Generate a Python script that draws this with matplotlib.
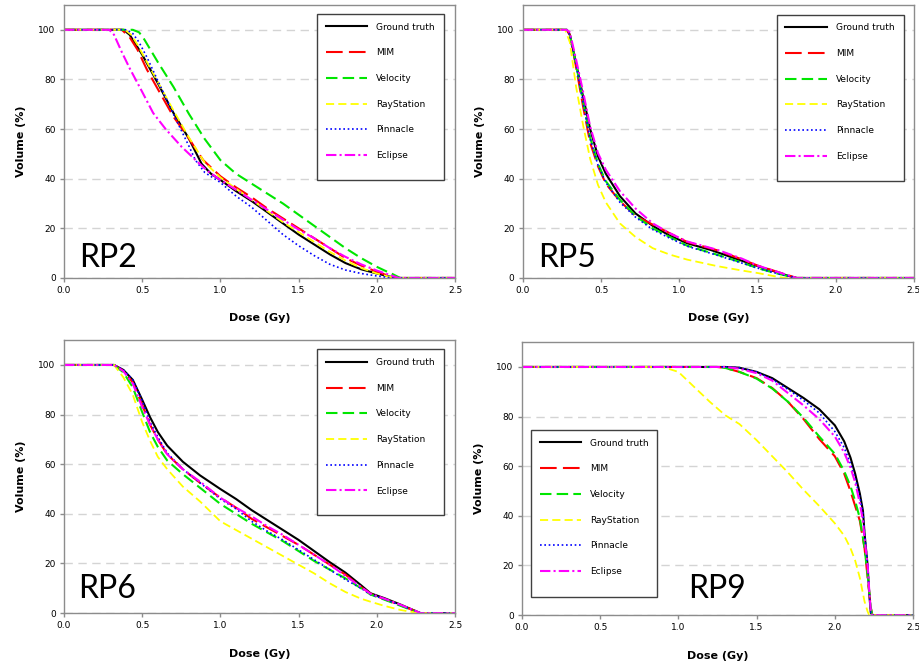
import matplotlib
matplotlib.use("Agg")
import matplotlib.pyplot as plt
from matplotlib.patches import Rectangle

# ---- dose-volume histogram data (dose in Gy, volume in %) ----
SERIES = ["Ground truth", "MIM", "Velocity", "RayStation", "Pinnacle", "Eclipse"]

# RP2
rp2_gt_d = [0, 0.38, 0.42, 0.46, 0.5, 0.6, 0.7, 0.8, 0.88, 0.94, 1.0, 1.1, 1.2, 1.3, 1.4, 1.5, 1.6, 1.7, 1.8, 1.9, 2.0, 2.08, 2.13, 2.5]
rp2_gt_v = [100, 100, 98, 94, 90, 78.5, 66.5, 56, 46, 42, 39.5, 35, 31, 26.5, 22, 17.5, 13.5, 9.5, 6, 3.5, 1.8, 0.6, 0, 0]
rp2_mim_d = [0, 0.37, 0.42, 0.47, 0.53, 0.61, 0.7, 0.79, 0.89, 1.0, 1.1, 1.2, 1.3, 1.4, 1.5, 1.6, 1.7, 1.8, 1.9, 2.0, 2.08, 2.13, 2.5]
rp2_mim_v = [100, 100, 97, 92, 84, 75, 65, 57, 47.5, 41, 36.5, 32.5, 28, 24, 20, 16, 12, 8, 5, 2.5, 0.8, 0, 0]
rp2_vel_d = [0, 0.44, 0.48, 0.51, 0.6, 0.7, 0.8, 0.9, 1.0, 1.1, 1.2, 1.3, 1.4, 1.5, 1.6, 1.7, 1.8, 1.9, 2.0, 2.05, 2.1, 2.15, 2.5]
rp2_vel_v = [100, 100, 99, 96.5, 87, 77, 66, 56, 47.5, 42, 38, 34, 30, 25.5, 21, 16.5, 12, 8, 4.5, 3, 1.6, 0, 0]
rp2_ray_d = [0, 0.39, 0.43, 0.47, 0.5, 0.6, 0.7, 0.8, 0.9, 1.0, 1.1, 1.2, 1.3, 1.4, 1.5, 1.6, 1.7, 1.8, 1.9, 2.0, 2.08, 2.13, 2.5]
rp2_ray_v = [100, 100, 98, 94, 90.5, 79, 67.5, 56.5, 46.5, 40.5, 36, 31.5, 27, 22.5, 18.5, 14.5, 10.5, 7, 4, 1.8, 0.5, 0, 0]
rp2_pin_d = [0, 0.4, 0.44, 0.48, 0.53, 0.6, 0.7, 0.8, 0.84, 0.9, 1.0, 1.1, 1.2, 1.3, 1.4, 1.5, 1.6, 1.7, 1.8, 1.9, 2.0, 2.06, 2.11, 2.5]
rp2_pin_v = [100, 100, 98.5, 95, 89, 79.5, 66, 53, 47.5, 42.5, 38.5, 33, 28.5, 23, 17.5, 13, 9, 5.5, 3.2, 1.8, 0.8, 0.3, 0, 0]
rp2_ecl_d = [0, 0.29, 0.32, 0.37, 0.42, 0.5, 0.57, 0.65, 0.75, 0.85, 0.92, 1.0, 1.1, 1.2, 1.3, 1.4, 1.5, 1.6, 1.7, 1.8, 1.9, 2.0, 2.08, 2.14, 2.5]
rp2_ecl_v = [100, 100, 98, 91, 84.5, 75, 66.5, 60, 53, 47, 43, 39.5, 35.5, 31.5, 27.5, 23.5, 19.5, 16, 12, 8.5, 5.5, 3, 1.3, 0, 0]

# RP5
rp5_gt_d = [0, 0.28, 0.3, 0.34, 0.385, 0.43, 0.48, 0.53, 0.62, 0.72, 0.83, 0.94, 1.05, 1.2, 1.35, 1.5, 1.6, 1.7, 1.75, 2.5]
rp5_gt_v = [100, 100, 98, 86.5, 73, 60, 49, 42, 33, 26, 21, 17, 14, 11.3, 8, 4.8, 2.8, 0.8, 0, 0]
rp5_d = [0, 0.28, 0.3, 0.34, 0.385, 0.43, 0.48, 0.53, 0.62, 0.72, 0.83, 0.94, 1.05, 1.24, 1.4, 1.5, 1.6, 1.7, 1.75, 2.5]
rp5_mim_v = [100, 100, 98, 85, 69, 54.5, 45, 38, 31, 25, 21.5, 18, 14.5, 11.2, 7.5, 5, 3, 1, 0, 0]
rp5_vel_v = [100, 100, 98, 86, 71, 56.5, 46, 39, 31.5, 25, 20, 16.5, 13, 9.4, 6.2, 4, 2.2, 0.7, 0, 0]
rp5_pin_v = [100, 100, 98, 86, 70.5, 56, 45.5, 38.5, 30.5, 24.5, 19.5, 16, 12.8, 9.2, 6, 4, 2.2, 0.7, 0, 0]
rp5_ecl_v = [100, 100, 99, 88, 75, 61, 50.3, 43.6, 35, 28, 22, 18, 14.7, 11.4, 7.8, 5, 3, 1, 0, 0]
rp5_ray_d = [0, 0.27, 0.3, 0.34, 0.385, 0.43, 0.48, 0.53, 0.62, 0.72, 0.83, 0.94, 1.05, 1.24, 1.4, 1.5, 1.6, 1.67, 2.5]
rp5_ray_v = [100, 100, 95, 77, 61.5, 48, 37.5, 30.5, 22, 16.5, 12, 9.4, 7.4, 4.8, 3, 2, 0.8, 0, 0]

# RP6
rp6_d = [0, 0.32, 0.38, 0.44, 0.5, 0.55, 0.6, 0.66, 0.76, 0.87, 1.0, 1.1, 1.2, 1.3, 1.4, 1.5, 1.6, 1.7, 1.8, 1.9, 1.96, 2.05, 2.15, 2.22, 2.28, 2.5]
rp6_gt_v = [100, 100, 98, 94, 86, 79, 73, 67.5, 61, 55.5, 50, 46, 41.5, 37.5, 33.5, 29.5, 25, 20.5, 16.3, 11.2, 8, 6, 3.5, 1.6, 0, 0]
rp6_mim_v = [100, 100, 97.5, 93, 84, 76, 70, 64, 58, 52.5, 46.5, 42.5, 38, 34.5, 31, 27.5, 23.5, 19.5, 15.5, 10.5, 7.8, 5.6, 3.2, 1.5, 0, 0]
rp6_vel_v = [100, 100, 97, 91, 81, 73, 67, 61.5, 56, 50.5, 44, 40, 36, 32.5, 29, 25, 21, 17.5, 14, 10, 7.5, 5.4, 3, 1.3, 0, 0]
rp6_ray_v = [100, 100, 95, 88, 77, 69.5, 63, 58, 51, 45, 37, 33.5, 30, 26.5, 23, 19.5, 16, 12, 8.5, 5.8, 4.6, 2.9, 1.3, 0.5, 0, 0]
rp6_pin_v = [100, 100, 98, 94, 85.5, 77, 71, 64.5, 58, 52.5, 46, 42, 37, 33, 29.5, 25.5, 21.5, 17.5, 13.5, 10, 7.5, 5.6, 3.2, 1.5, 0, 0]
rp6_ecl_v = [100, 100, 97.5, 92.5, 83, 76, 70, 64, 58, 53, 46.5, 42.5, 39, 35, 31.5, 27.5, 23.5, 19.5, 15, 10.5, 7.8, 5.8, 3.4, 1.6, 0, 0]

# RP9
rp9_d = [0, 1.3, 1.39, 1.5, 1.6, 1.7, 1.8, 1.9, 2.0, 2.06, 2.1, 2.13, 2.16, 2.18, 2.19, 2.21, 2.22, 2.23, 2.24, 2.5]
rp9_gt_v = [100, 100, 99.7, 98, 95.5, 91.5, 87.5, 83, 76.5, 70, 63.5, 57, 49, 42, 33, 19.7, 8.7, 1, 0, 0]
rp9_pin_v = [100, 100, 99.7, 98, 95, 91, 86.5, 81.5, 74, 67.5, 61, 55, 47.5, 41, 33, 20, 9, 1, 0, 0]
rp9_ecl_v = [100, 100, 99.3, 97.5, 94.5, 89.5, 84.5, 79, 72, 65.5, 59.5, 53.5, 45, 38, 31, 20, 10, 2, 0, 0]
rp9_vm_d = [0, 1.25, 1.3, 1.39, 1.5, 1.6, 1.7, 1.8, 1.9, 2.0, 2.06, 2.1, 2.13, 2.16, 2.19, 2.21, 2.23, 2.24, 2.5]
rp9_vel_v = [100, 100, 99.6, 98, 95.3, 91.3, 86, 79.5, 72, 65, 58, 52, 46, 39, 27, 16, 3, 0, 0]
rp9_mim_v = [100, 100, 99.6, 98, 95.5, 91.5, 86, 79, 71, 64, 57, 50, 44, 38, 27, 15, 3, 0, 0]
rp9_ray_d = [0, 0.9, 1.0, 1.1, 1.2, 1.3, 1.39, 1.5, 1.6, 1.7, 1.8, 1.9, 2.0, 2.06, 2.1, 2.13, 2.16, 2.19, 2.21, 2.22, 2.5]
rp9_ray_v = [100, 100, 98, 92, 86, 80.5, 77, 70.5, 64, 57.5, 50.5, 44, 37, 32, 27, 22, 15, 5.5, 1.4, 0, 0]

# line styles per planning system
STYLES = {
    "Ground truth": dict(color="black", lw=1.5, ls="-"),
    "MIM": dict(color="#ff0000", lw=1.5, ls=(0, (8, 3))),
    "Velocity": dict(color="#00e600", lw=1.5, ls=(0, (5.5, 2.5))),
    "RayStation": dict(color="#ffff00", lw=1.3, ls=(0, (4.5, 2.3))),
    "Pinnacle": dict(color="#0000ff", lw=1.2, ls=(0, (1, 1.6))),
    "Eclipse": dict(color="#ff00ff", lw=1.5, ls=(0, (5, 1.5, 1, 1.5))),
}


def draw_panel(ax, curves, tag, tag_xy, box):
    for name, (d, v) in zip(SERIES, curves):
        ax.plot(d, v, label=name, **STYLES[name])

    ax.set_xlim(0, 2.5)
    ax.set_ylim(0, 110)
    ax.set_xticks([0, 0.5, 1.0, 1.5, 2.0, 2.5])
    ax.set_xticklabels(["0.0", "0.5", "1.0", "1.5", "2.0", "2.5"])
    ax.set_yticks([0, 20, 40, 60, 80, 100])
    ax.set_axisbelow(True)
    ax.yaxis.grid(True, color="#d4d4d4", lw=1, ls=(0, (6, 4)))
    for sp in ax.spines.values():
        sp.set_color("#8c8c8c")
        sp.set_linewidth(1)
    ax.tick_params(direction="out", length=3, width=1, color="#8c8c8c",
                   labelsize=6.5, pad=3)
    ax.set_xlabel("Dose (Gy)", fontsize=8, fontweight="bold", labelpad=13)
    ax.set_ylabel("Volume (%)", fontsize=8, fontweight="bold", labelpad=9)

    ax.text(tag_xy[0], tag_xy[1], tag, fontsize=23, family="Lato",
            va="baseline", ha="left")

    # legend box: (left, bottom, right, top) in axes fraction
    x0, y0, x1, y1 = box
    ax.add_patch(Rectangle((x0, y0), x1 - x0, y1 - y0, transform=ax.transAxes,
                           facecolor="white", edgecolor="#404040", lw=1.0,
                           zorder=4))
    leg = ax.legend(loc="upper left", bbox_to_anchor=(x0, y1),
                    borderaxespad=0, fontsize=6.5, handlelength=4.6,
                    handletextpad=1.0, labelspacing=1.85, borderpad=0.95,
                    frameon=False)
    leg.set_zorder(5)


fig = plt.figure(figsize=(9.19, 6.65), dpi=100)
ax1 = fig.add_axes([0.0696, 0.582, 0.4255, 0.4105])
ax2 = fig.add_axes([0.569, 0.582, 0.4255, 0.4105])
ax3 = fig.add_axes([0.0696, 0.078, 0.4255, 0.4105])
ax4 = fig.add_axes([0.568, 0.075, 0.4255, 0.4105])

draw_panel(ax1,
           [(rp2_gt_d, rp2_gt_v), (rp2_mim_d, rp2_mim_v), (rp2_vel_d, rp2_vel_v),
            (rp2_ray_d, rp2_ray_v), (rp2_pin_d, rp2_pin_v), (rp2_ecl_d, rp2_ecl_v)],
           "RP2", (0.1, 4.4), (0.647, 0.359, 0.972, 0.967))
draw_panel(ax2,
           [(rp5_gt_d, rp5_gt_v), (rp5_d, rp5_mim_v), (rp5_d, rp5_vel_v),
            (rp5_ray_d, rp5_ray_v), (rp5_d, rp5_pin_v), (rp5_d, rp5_ecl_v)],
           "RP5", (0.1, 4.4), (0.649, 0.355, 0.974, 0.964))
draw_panel(ax3,
           [(rp6_d, rp6_gt_v), (rp6_d, rp6_mim_v), (rp6_d, rp6_vel_v),
            (rp6_d, rp6_ray_v), (rp6_d, rp6_pin_v), (rp6_d, rp6_ecl_v)],
           "RP6", (0.09, 6.0), (0.647, 0.358, 0.972, 0.966))
draw_panel(ax4,
           [(rp9_d, rp9_gt_v), (rp9_vm_d, rp9_mim_v), (rp9_vm_d, rp9_vel_v),
            (rp9_ray_d, rp9_ray_v), (rp9_d, rp9_pin_v), (rp9_d, rp9_ecl_v)],
           "RP9", (1.06, 6.9), (0.023, 0.066, 0.345, 0.678))

fig.savefig("out.png", dpi=100)
